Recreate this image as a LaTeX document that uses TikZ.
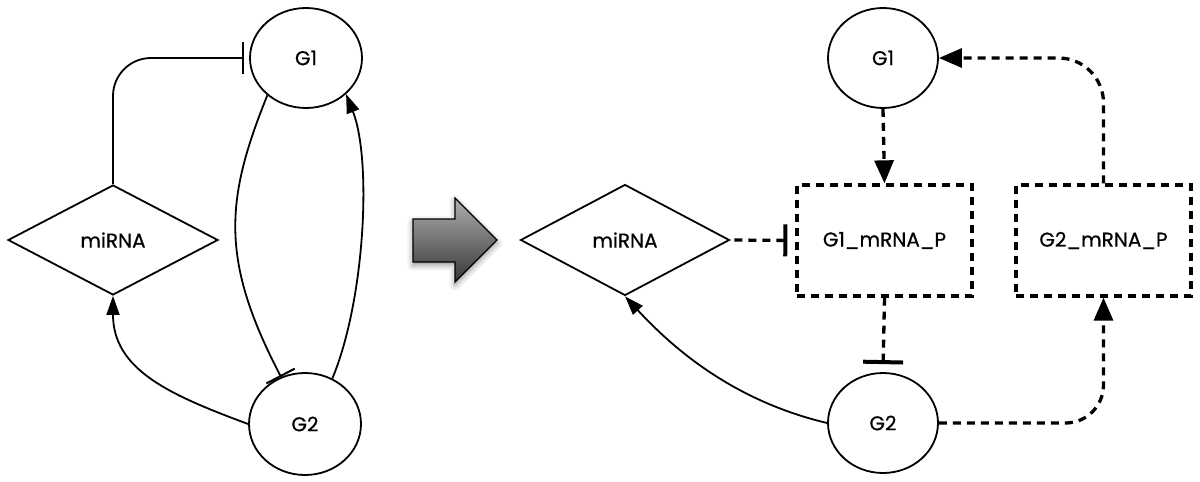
\documentclass[tikz,border=0pt]{standalone}
\usepackage{fontspec}
\setmainfont{Poppins}[FakeBold=0.6]
\usetikzlibrary{arrows.meta,shapes.geometric,shadows.blur}
\begin{document}
\begin{tikzpicture}[x=1pt,y=-1pt,
  every node/.style={font=\fontsize{20}{22}\selectfont, inner sep=0pt},
  gene/.style={ellipse, draw, line width=1.8pt, minimum width=112pt, minimum height=100pt},
  mir/.style={diamond, draw, line width=1.8pt, minimum width=210pt, minimum height=110pt},
  prot/.style={rectangle, draw, line width=3.3pt, dash pattern=on 8pt off 6pt, minimum width=175pt, minimum height=111pt},
  solidedge/.style={line width=1.8pt},
  dashedge/.style={line width=3.3pt, dash pattern=on 8pt off 6pt},
  act/.style={-{Triangle[length=19pt,width=13pt]}},
  dact/.style={-{Triangle[length=23pt,width=19pt]}},
  inh/.style={-{Bar[width=32pt,line width=2pt]}},
  dinh/.style={-{Bar[width=40pt,line width=4pt]}}
]
\useasboundingbox (0,0) rectangle (1200,482);
% big arrow
\begin{scope}
\path[draw=black, line width=1.2pt, top color={rgb,255:red,175;green,175;blue,175}, bottom color={rgb,255:red,55;green,55;blue,55},
  blur shadow={shadow xshift=0pt, shadow yshift=-3pt, shadow blur radius=6pt, shadow opacity=45}]
  (413,219) -- (455,219) -- (455,198) -- (497,240) -- (455,282) -- (455,262) -- (413,262) -- cycle;
\end{scope}
% left panel
\node[gene] (G1L) at (306,58) {G1};
\node[gene, minimum height=102pt] (G2L) at (305,424) {G2};
\node[mir] (miL) at (113,240) {miRNA};
\draw[solidedge, inh, rounded corners=38pt, shorten >=5pt] (miL.north) |- (G1L.west);
\draw[solidedge, inh] (G1L.224) .. controls (225,200) and (220,260) .. (G2L.117);
\draw[solidedge, act] (G2L.59) .. controls (365,300) and (372,160) .. (G1L.318);
\draw[solidedge, act] (G2L.west) .. controls (170,395) and (113,370) .. (miL.south);
% right panel
\node[gene, minimum width=110pt] (G1R) at (883,58) {G1};
\node[gene, minimum width=110pt] (G2R) at (883,423) {G2};
\node[mir, minimum width=209pt, minimum height=111pt] (miR) at (625,240) {miRNA};
\node[prot] (P1) at (884.5,240.5) {G1\_mRNA\_P};
\node[prot] (P2) at (1103.5,240.5) {G2\_mRNA\_P};
\draw[dashedge, dact] (G1R.south) -- (P1.north);
\draw[dashedge, dinh, shorten >=8pt] (P1.south) -- (G2R.north);
\draw[dashedge, {Bar[width=32pt,line width=4pt]}-, shorten <=8pt] (P1.west) -- (miR.east);
\draw[solidedge, act] (G2R.west) .. controls (730,400) and (670,345) .. (miR.south);
\draw[dashedge, dact, rounded corners=38pt] (G2R.east) -| (P2.south);
\draw[dashedge, dact, rounded corners=45pt] (P2.north) |- (G1R.east);
\end{tikzpicture}
\end{document}
